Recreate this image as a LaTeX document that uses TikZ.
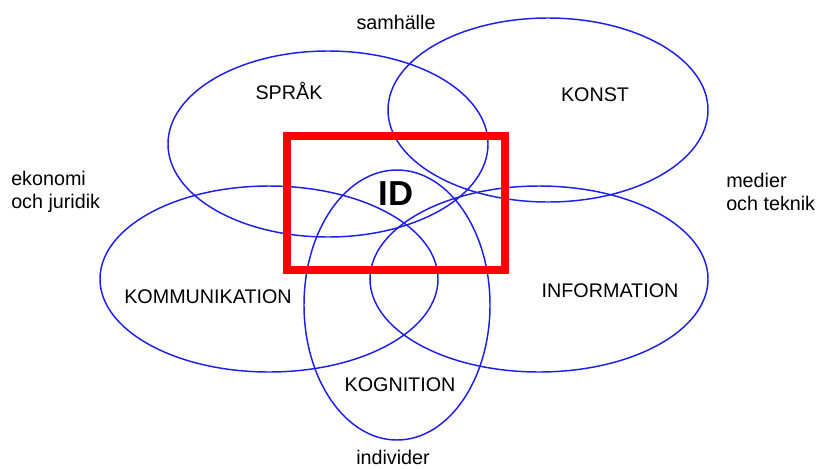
\documentclass[tikz,border=0pt]{standalone}
\usepackage{fontspec}
\setmainfont{Liberation Sans}
\definecolor{ringblue}{RGB}{30,30,235}
\tikzset{
  ring/.style={draw=ringblue, line width=1.1pt},
  lbl/.style={font=\fontsize{14.8}{17}\selectfont, inner sep=0pt},
  side/.style={lbl, align=left, anchor=west}
}
\begin{document}
\begin{tikzpicture}[x=0.75pt,y=-0.75pt]
\useasboundingbox (0,0) rectangle (817,468);
\draw[ring] (328,144) ellipse [x radius=160, y radius=93];
\draw[ring] (548,110) ellipse [x radius=160, y radius=92];
\draw[ring] (269,279) ellipse [x radius=169, y radius=93];
\draw[ring] (539,279) ellipse [x radius=169, y radius=93];
\draw[ring] (397,305) ellipse [x radius=93, y radius=135];
\draw[red, line width=6pt] (287,136) rectangle (505,270);
\node[lbl] (samh) at (396,22) {samhälle};
\node[lbl] (sprak) at (289,91) {SPRÅK};
\node[lbl] (konst) at (595,95) {KONST};
\node[font=\fontsize{26}{30}\selectfont\bfseries, inner sep=0pt] (id) at (396,194) {ID};
\node[side] (ekon) at (11,192) {ekonomi\\och juridik};
\node[side] (medier) at (726,192) {medier\\och teknik};
\node[lbl] (komm) at (208,297) {KOMMUNIKATION};
\node[lbl] (info) at (610,291) {INFORMATION};
\node[lbl] (kogn) at (400,385) {KOGNITION};
\node[lbl] (indiv) at (393,457) {individer};
\end{tikzpicture}
\end{document}
